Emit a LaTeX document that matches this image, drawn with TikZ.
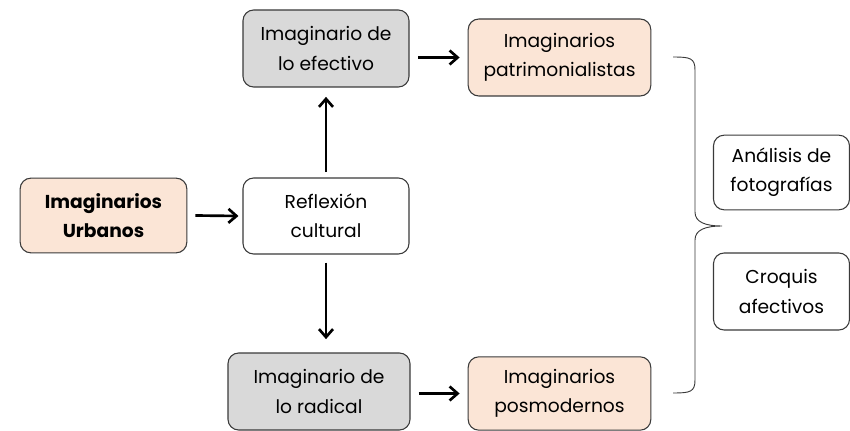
\documentclass[tikz,border=0pt]{standalone}
\usepackage{fontspec}
\setmainfont{Poppins}
\usetikzlibrary{arrows.meta}
\definecolor{peach}{HTML}{FBE5D6}
\definecolor{greybox}{HTML}{D9D9D9}
\definecolor{edge}{HTML}{3A3A3A}
\begin{document}
\begin{tikzpicture}[x=0.75pt,y=-0.75pt,
  box/.style={draw=edge,line width=0.8pt,rounded corners=8pt,align=center,inner sep=0pt,
    font=\fontsize{14}{22}\selectfont,text=black},
  arr/.style={-{Straight Barb[length=6pt,width=10.5pt,line width=2pt]},line width=2pt}]
\useasboundingbox (0,0) rectangle (850,431);
\node[box,fill=peach,font=\fontsize{14}{22}\selectfont\bfseries,minimum width=125pt,minimum height=56pt] (urb) at (103.5,215.5) {Imaginarios\\Urbanos};
\node[box,fill=white,minimum width=124.5pt,minimum height=57pt] (ref) at (326,216) {Reflexión\\cultural};
\node[box,fill=greybox,minimum width=124.5pt,minimum height=57.75pt] (efe) at (326,48.5) {Imaginario de\\lo efectivo};
\node[box,fill=greybox,minimum width=136.5pt,minimum height=57.75pt] (rad) at (319,391.5) {Imaginario de\\lo radical};
\node[box,fill=peach,minimum width=137pt,minimum height=57.75pt] (pat) at (559.5,57.5) {Imaginarios\\patrimonialistas};
\node[box,fill=peach,minimum width=137pt,minimum height=55pt] (pos) at (559.5,393.5) {Imaginarios\\posmodernos};
\node[box,fill=white,minimum width=102pt,minimum height=56pt] (ana) at (781.5,172.5) {Análisis de\\fotografías};
\node[box,fill=white,minimum width=102pt,minimum height=57.75pt] (cro) at (781.5,291.5) {Croquis\\afectivos};
\draw[arr] ([xshift=6pt]urb.east) -- ([xshift=-3pt]ref.west);
\draw[arr] ([yshift=4pt]ref.north) -- ([yshift=-7pt]efe.south-|ref.north);
\draw[arr] ([yshift=-6pt]ref.south) -- ([yshift=10pt]rad.north-|ref.south);
\draw[arr] ([xshift=6.5pt]efe.east|-pat.west) -- ([xshift=-6pt]pat.west);
\draw[arr] ([xshift=6pt]rad.east|-pos.west) -- ([xshift=-6pt]pos.west);
\coordinate (bt) at (673,57);
\coordinate (bb) at (673,393);
\coordinate (tip) at (722,226);
\draw[edge,line width=0.7pt] (bt) .. controls (690,57) and (695,58) .. (695,70)
  -- (695,212) .. controls (695,222) and (705,226) .. (tip)
  (tip) .. controls (705,226) and (695,230) .. (695,240)
  -- (695,380) .. controls (695,392) and (690,393) .. (bb);
\end{tikzpicture}
\end{document}
